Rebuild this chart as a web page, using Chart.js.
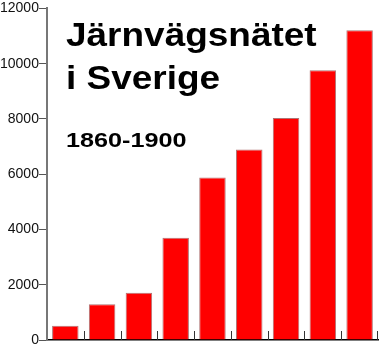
<!DOCTYPE html>
<html lang="sv">
<head>
  <meta charset="UTF-8" />
  <title>Järnvägsnätet i Sverige</title>
  <style>
    body {
      margin: 0;
      background: #ffffff;
      font-family: 'Liberation Sans', Arial, sans-serif;
    }
    .wrap {
      position: relative;
      width: 379px;
      height: 350px;
    }
    .rubrik {
      position: absolute;
      left: 66px;
      top: 12.5px;
      font-weight: bold;
      font-size: 33px;
      line-height: 43px;
      color: #000;
      white-space: nowrap;
      transform: scaleX(1.12);
      transform-origin: left top;
    }
    .period {
      position: absolute;
      left: 66px;
      top: 129px;
      font-weight: bold;
      font-size: 21px;
      line-height: 21px;
      color: #000;
      white-space: nowrap;
      transform: scaleX(1.2);
      transform-origin: left top;
    }
  </style>
</head>
<body>
  <div class="wrap">
    <canvas id="graf" width="379" height="350"></canvas>
    <div class="rubrik">Järnvägsnätet<br>i Sverige</div>
    <div class="period">1860-1900</div>
  </div>

  <script src="https://cdn.jsdelivr.net/npm/chart.js"></script>
  <script>
    // år och banlängd (km)
    const ar = ['1860', '1865', '1870', '1875', '1880', '1885', '1890', '1895', '1900'];
    const km = [520, 1290, 1710, 3700, 5880, 6890, 8030, 9760, 11210];
    const yTicks = [0, 2000, 4000, 6000, 8000, 10000, 12000];

    // små streck mellan staplarna, uppåt från x-axeln
    const mellanStreck = {
      id: 'mellanStreck',
      afterDraw(chart) {
        const x = chart.scales.x;
        const y0 = chart.scales.y.getPixelForValue(0);
        const c = chart.ctx;
        c.save();
        c.strokeStyle = '#333';
        c.lineWidth = 1;
        for (let i = 0; i < ar.length; i++) {
          const px = i + 1 < ar.length
            ? Math.round((x.getPixelForValue(i) + x.getPixelForValue(i + 1)) / 2)
            : Math.round(x.right) - 1;
          c.beginPath();
          c.moveTo(px + 0.5, y0);
          c.lineTo(px + 0.5, y0 - 9);
          c.stroke();
        }
        c.restore();
      }
    };

    new Chart(document.getElementById('graf'), {
      type: 'bar',
      data: {
        labels: ar,
        datasets: [{
          data: km,
          backgroundColor: '#ff0000',
          borderColor: 'rgba(110,0,0,0.55)',
          borderWidth: 1,
          barPercentage: 0.72,
          categoryPercentage: 1
        }]
      },
      options: {
        responsive: false,
        animation: false,
        layout: { padding: { top: -2, right: 1, bottom: 10, left: 0 } },
        plugins: {
          legend: { display: false },
          tooltip: { enabled: false }
        },
        scales: {
          x: {
            ticks: { display: false },
            grid: { display: false, drawTicks: false },
            border: { display: true, color: '#000', width: 1.5 }
          },
          y: {
            min: 0,
            max: 12000,
            afterBuildTicks(axis) {
              axis.ticks = yTicks.map(v => ({ value: v }));
            },
            ticks: {
              color: '#111',
              padding: 0,
              callback: v => String(v),
              font: { family: "'Liberation Sans', Arial, sans-serif", size: 14 }
            },
            grid: {
              drawOnChartArea: false,
              drawTicks: true,
              tickLength: 8,
              color: '#555'
            },
            border: { display: true, color: '#777', width: 2 }
          }
        }
      },
      plugins: [mellanStreck]
    });
  </script>
</body>
</html>
